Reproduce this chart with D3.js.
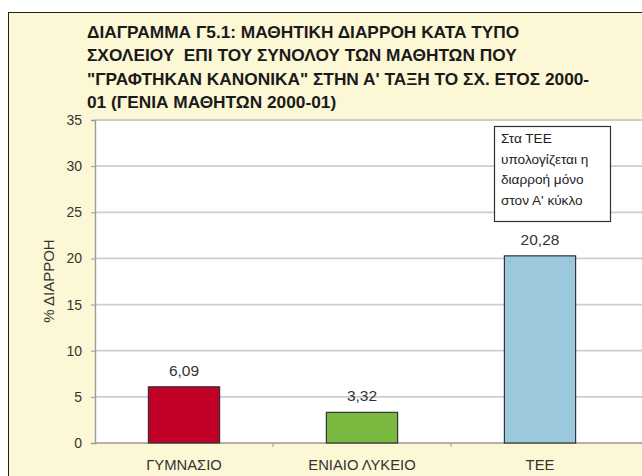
<!DOCTYPE html>
<html>
<head>
<meta charset="utf-8">
<script src="https://cdn.jsdelivr.net/npm/d3@7"></script>
<style>
  html, body { margin: 0; padding: 0; background: #ffffff; }
  svg { display: block; font-family: "Liberation Sans", Arial, sans-serif; }
</style>
</head>
<body>
<svg id="chart" width="642" height="476"></svg>
<script>
// Dropout rate by school type (%)
const categories = ["ΓΥΜΝΑΣΙΟ", "ΕΝΙΑΙΟ ΛΥΚΕΙΟ", "ΤΕΕ"];
const values = [6.09, 3.32, 20.28];
const valueLabels = ["6,09", "3,32", "20,28"];
const barColors = ["#C00027", "#7AB93F", "#9CC8DE"];
const yTicks = [0, 5, 10, 15, 20, 25, 30, 35];
const titleLines = [
  "ΔΙΑΓΡΑΜΜΑ Γ5.1: ΜΑΘΗΤΙΚΗ ΔΙΑΡΡΟΗ ΚΑΤΑ ΤΥΠΟ",
  "ΣΧΟΛΕΙΟΥ  ΕΠΙ ΤΟΥ ΣΥΝΟΛΟΥ ΤΩΝ ΜΑΘΗΤΩΝ ΠΟΥ",
  "\"ΓΡΑΦΤΗΚΑΝ ΚΑΝΟΝΙΚΑ\" ΣΤΗΝ Α' ΤΑΞΗ ΤΟ ΣΧ. ΕΤΟΣ 2000-",
  "01 (ΓΕΝΙΑ ΜΑΘΗΤΩΝ 2000-01)"
];
const noteLines = ["Στα ΤΕΕ", "υπολογίζεται η", "διαρροή μόνο", "στον Α' κύκλο"];
const yAxisTitle = "% ΔΙΑΡΡΟΗ";

const svg = d3.select("#chart");

// Chart frame
svg.append("rect")
  .attr("x", 8.5).attr("y", 12.5)
  .attr("width", 660).attr("height", 480)
  .attr("fill", "#FCF8D6")
  .attr("stroke", "#222").attr("stroke-width", 1);

// Title
svg.append("g").selectAll("text").data(titleLines).join("text")
  .attr("x", 87)
  .attr("y", (d, i) => 38 + i * 23.3)
  .attr("font-size", 17.3)
  .attr("font-weight", "bold")
  .attr("fill", "#1a1a1a")
  .style("white-space", "pre")
  .text(d => d);

const plot = { left: 95, top: 120, right: 629, bottom: 443 };

const y = d3.scaleLinear().domain([0, 35]).range([plot.bottom, plot.top]);
const x = d3.scaleBand().domain(categories)
  .range([plot.left, plot.right]).paddingInner(0.6).paddingOuter(0.3);

// Plot area background
svg.append("rect")
  .attr("x", plot.left).attr("y", plot.top)
  .attr("width", 660 - plot.left).attr("height", plot.bottom - plot.top)
  .attr("fill", "#ffffff");

// Horizontal gridlines
svg.append("g").selectAll("line").data(yTicks.filter(t => t > 0)).join("line")
  .attr("x1", plot.left).attr("x2", 660)
  .attr("y1", d => y(d)).attr("y2", d => y(d))
  .attr("stroke", "#cdcdcd").attr("stroke-width", 1.8);

// Y axis
const yAxis = d3.axisLeft(y).tickValues(yTicks).tickSize(4).tickPadding(9);
const gy = svg.append("g").attr("transform", `translate(${plot.left},0)`).call(yAxis);
gy.select(".domain").attr("stroke", "#9a9a9a").attr("stroke-width", 1.4);
gy.selectAll(".tick line").attr("stroke", "#9a9a9a");
gy.selectAll(".tick text")
  .attr("font-size", 14).attr("fill", "#333")
  .attr("font-family", "Liberation Sans, Arial, sans-serif");

// X axis
const xAxis = d3.axisBottom(x).tickSize(0).tickPadding(16.5);
const gx = svg.append("g").attr("transform", `translate(0,${plot.bottom})`).call(xAxis);
gx.select(".domain").remove();
gx.selectAll(".tick text")
  .attr("font-size", 14.8).attr("fill", "#333")
  .attr("font-family", "Liberation Sans, Arial, sans-serif");

// Baseline
svg.append("line")
  .attr("x1", plot.left).attr("x2", 660)
  .attr("y1", plot.bottom).attr("y2", plot.bottom)
  .attr("stroke", "#9a9a9a").attr("stroke-width", 1.4);

// Category separator ticks
const step = x.step();
svg.append("g").selectAll("line").data(categories.slice(1)).join("line")
  .attr("x1", d => x(d) - (step - x.bandwidth()) / 2)
  .attr("x2", d => x(d) - (step - x.bandwidth()) / 2)
  .attr("y1", plot.bottom).attr("y2", plot.bottom + 4)
  .attr("stroke", "#9a9a9a");

// Bars
svg.append("g").selectAll("rect").data(values).join("rect")
  .attr("x", (d, i) => x(categories[i]))
  .attr("y", d => y(d))
  .attr("width", x.bandwidth())
  .attr("height", d => y(0) - y(d))
  .attr("fill", (d, i) => barColors[i])
  .attr("stroke", "#333").attr("stroke-width", 1.2);

// Value labels
svg.append("g").selectAll("text").data(values).join("text")
  .attr("x", (d, i) => x(categories[i]) + x.bandwidth() / 2)
  .attr("y", d => y(d) - 11)
  .attr("text-anchor", "middle")
  .attr("font-size", 15.5).attr("fill", "#333")
  .text((d, i) => valueLabels[i]);

// Note box above the TEE bar
const note = svg.append("g");
note.append("rect")
  .attr("x", 494.5).attr("y", 126.5)
  .attr("width", 116).attr("height", 95)
  .attr("fill", "#ffffff")
  .attr("stroke", "#333").attr("stroke-width", 1.2);
note.selectAll("text").data(noteLines).join("text")
  .attr("x", 501)
  .attr("y", (d, i) => 143 + i * 20.5)
  .attr("font-size", 13.6).attr("fill", "#222")
  .text(d => d);

// Y axis title
svg.append("text")
  .attr("transform", "translate(53.5,281) rotate(-90)")
  .attr("text-anchor", "middle")
  .attr("font-size", 15).attr("fill", "#333")
  .text(yAxisTitle);
</script>
</body>
</html>
